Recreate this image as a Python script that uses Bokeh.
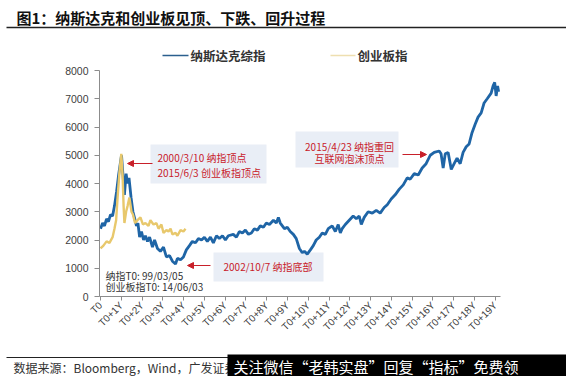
import math
from bokeh.plotting import figure
from bokeh.layouts import column, row
from bokeh.models import Label, BoxAnnotation, Arrow, NormalHead, FixedTicker
from bokeh.core.properties import value
from bokeh.embed import file_html
from bokeh.resources import INLINE

# ---------------- data ----------------
tick_years = list(range(20))
tick_labels = ["T0"] + [f"T0+{i}Y" for i in range(1, 20)]
y_ticks = [0, 1000, 2000, 3000, 4000, 5000, 6000, 7000, 8000]

# Nasdaq Composite, years after T0 (1999/03/05)
nasdaq_t = [0.00, 0.10, 0.19, 0.29, 0.38, 0.48, 0.58, 0.67, 0.77, 0.87, 1.01, 1.06, 1.15, 1.23,
            1.30, 1.37, 1.47, 1.56, 1.63, 1.73, 1.80, 1.88, 1.97, 2.07, 2.16, 2.26, 2.36, 2.50,
            2.60, 2.74, 2.88, 3.03, 3.17, 3.32, 3.46, 3.61, 3.70, 3.85, 3.99, 4.13, 4.28, 4.42,
            4.57, 4.71, 4.86, 5.00, 5.14, 5.29, 5.43, 5.58, 5.72, 5.87, 6.01, 6.15, 6.39, 6.54,
            6.68, 6.83, 6.97, 7.12, 7.26, 7.40, 7.55, 7.69, 7.84, 7.98, 8.13, 8.32, 8.46, 8.56,
            8.65, 8.85, 8.99, 9.13, 9.28, 9.42, 9.57, 9.71, 9.81, 9.95, 10.10, 10.24, 10.38,
            10.53, 10.67, 10.82, 10.96, 11.15, 11.30, 11.44, 11.54, 11.63, 11.78, 11.97, 12.16,
            12.31, 12.45, 12.55, 12.69, 12.88, 13.08, 13.27, 13.46, 13.65, 13.80, 13.99, 14.18,
            14.38, 14.57, 14.76, 14.90, 15.10, 15.29, 15.48, 15.67, 15.87, 16.06, 16.30, 16.39,
            16.49, 16.59, 16.73, 16.88, 17.02, 17.16, 17.31, 17.45, 17.60, 17.74, 17.88, 18.03,
            18.17, 18.32, 18.46, 18.61, 18.80, 18.89, 18.97, 19.04, 19.11, 19.16]
nasdaq_v = [2400, 2600, 2500, 2750, 2650, 2900, 2850, 3200, 3700, 4300, 5000, 4500, 3600, 4350,
            4000, 4200, 3500, 3000, 2800, 2500, 2600, 2100, 2300, 2000, 2150, 1950, 2100, 1750,
            2000, 1700, 1600, 1750, 1400, 1450, 1250, 1150, 1350, 1300, 1400, 1650, 1800, 1950,
            1900, 2050, 2000, 2100, 1950, 2100, 1900, 2150, 2050, 2150, 2000, 2150, 2200, 2100,
            2300, 2250, 2350, 2200, 2250, 2400, 2350, 2500, 2450, 2600, 2550, 2700, 2600, 2800,
            2600, 2400, 2450, 2300, 2200, 2050, 1700, 1550, 1600, 1500, 1650, 1800, 2000,
            2100, 2250, 2200, 2400, 2500, 2300, 2550, 2250, 2400, 2550, 2700, 2850,
            2750, 2850, 2550, 2800, 3000, 2950, 3050, 2950, 3150, 3250, 3450, 3600,
            3800, 3950, 4200, 4150, 4350, 4300, 4550, 4700, 5000, 5100, 5150, 5050,
            4550, 5050, 5100, 4500, 4700, 4900, 4700, 5100, 5300, 5400, 5800, 6100,
            6350, 6500, 6850, 7000, 7200, 7450, 7580, 7100, 7450, 7250]

# ChiNext index, years after T0 (14/06/03)
chinext_t = [0.00, 0.14, 0.29, 0.43, 0.58, 0.67, 0.75, 0.82, 0.91, 1.00, 1.06, 1.11, 1.15, 1.23,
             1.30, 1.39, 1.49, 1.56, 1.66, 1.78, 1.92, 2.04, 2.16, 2.31, 2.40, 2.55, 2.69, 2.79,
             2.93, 3.03, 3.17, 3.27, 3.37, 3.46, 3.61, 3.70, 3.85, 3.99, 4.09]
chinext_v = [1700, 1800, 1950, 1900, 2100, 2400, 2700, 3500, 4400, 5050, 4300, 3200, 2600, 3000,
             3200, 3500, 3000, 2900, 2600, 2700, 2800, 2550, 2600, 2500, 2700, 2550, 2600, 2400,
             2550, 2250, 2350, 2300, 2400, 2200, 2250, 2150, 2350, 2300, 2400]

series_names = ["纳斯达克综指", "创业板指"]
title_text = "图1：纳斯达克和创业板见顶、下跌、回升过程"
source_text = "数据来源：Bloomberg，Wind，广发证券"
banner_text = "关注微信“老韩实盘”回复“指标”免费领"

BLUE = "#1f65a6"
GOLD = "#e8c86c"
RED = "#c8202a"
CJK = "Noto Sans CJK SC"

W, H = 566, 376
TOP_H = 64          # header strip: canvas y 0..64
MAIN_BOT = 340      # main chart: canvas y 64..340, footer 340..376


def strip(height, y_top, y_bot):
    f = figure(width=W, height=height, x_range=(0, W), y_range=(y_bot, y_top),
               output_backend="svg", toolbar_location=None,
               x_axis_location=None, y_axis_location=None,
               min_border=0, min_border_left=0, min_border_right=0,
               min_border_top=0, min_border_bottom=0)
    f.outline_line_color = None
    f.grid.visible = False
    return f


# ---------------- header ----------------
top = strip(TOP_H, 0, TOP_H)
top.text(x=[16], y=[17], text=[title_text], text_font=value(CJK), text_font_size="15px",
         text_font_style="bold", text_color="#111111", text_baseline="middle")
top.segment(x0=[6], x1=[W], y0=[27], y1=[27], line_color="#222222", line_width=1.5)
top.segment(x0=[162, 330], x1=[188, 355], y0=[55, 55], y1=[55, 55],
            line_color=["#2b5f8e", "#eedfb0"], line_width=1.6)
top.text(x=[190, 357], y=[55, 55], text=series_names, text_font=value(CJK),
         text_font_size="12.5px", text_font_style="bold", text_color="#333333",
         text_baseline="middle")

# ---------------- main chart ----------------
X0, X1 = -0.05, 19.25
Y0, Y1 = 0, 8000
FL, FR, FT, FB = 99, 500, 70, 296   # frame edges in canvas pixels


def dx(px):
    return X0 + (px - FL) / (FR - FL) * (X1 - X0)


def dy(py):
    return Y0 + (FB - py) / (FB - FT) * (Y1 - Y0)


p = figure(width=W, height=MAIN_BOT - TOP_H, x_range=(X0, X1), y_range=(Y0, Y1),
           output_backend="svg", toolbar_location=None,
           min_border_left=FL, min_border_right=W - FR,
           min_border_top=FT - TOP_H, min_border_bottom=MAIN_BOT - FB)
p.outline_line_color = None
p.grid.visible = False

p.yaxis.ticker = FixedTicker(ticks=y_ticks)
p.yaxis.axis_line_color = "#8c8c8c"
p.yaxis.major_tick_line_color = "#8c8c8c"
p.yaxis.major_tick_out = 5
p.yaxis.major_tick_in = 0
p.yaxis.minor_tick_line_color = None
p.yaxis.major_label_text_font = "Liberation Sans"
p.yaxis.major_label_text_font_size = "10.5px"
p.yaxis.major_label_text_color = "#404040"
p.yaxis.major_label_standoff = 6

p.xaxis.ticker = FixedTicker(ticks=tick_years)
p.xaxis.major_label_overrides = {i: s for i, s in zip(tick_years, tick_labels)}
p.xaxis.major_label_orientation = math.pi / 4
p.xaxis.axis_line_color = "#8c8c8c"
p.xaxis.major_tick_line_color = "#8c8c8c"
p.xaxis.major_tick_out = 4
p.xaxis.major_tick_in = 0
p.xaxis.minor_tick_line_color = None
p.xaxis.major_label_text_font = "Liberation Sans"
p.xaxis.major_label_text_font_size = "10px"
p.xaxis.major_label_text_color = "#404040"
p.xaxis.major_label_standoff = 3

# annotation boxes (behind lines)
for (l, r, t, b) in [(150, 266, 144, 183), (295, 398, 131, 167), (213, 323, 252, 281)]:
    p.add_layout(BoxAnnotation(left=dx(l), right=dx(r), top=dy(t), bottom=dy(b),
                               fill_color="#e9eef6", fill_alpha=1.0, line_color=None,
                               level="underlay"))

p.line(nasdaq_t, nasdaq_v, line_color=BLUE, line_width=2.8)
p.line(chinext_t, chinext_v, line_color=GOLD, line_width=2.4)


def label(px, py, text, size, color="#222222", style="normal", align="left"):
    p.add_layout(Label(x=dx(px), y=dy(py), text=text, text_font=CJK,
                       text_font_size=size, text_color=color, text_font_style=style,
                       text_align=align, text_baseline="middle"))


def arrow(x1, x2, py):
    p.add_layout(Arrow(x_start=dx(x1), x_end=dx(x2), y_start=dy(py), y_end=dy(py),
                       line_color=RED, line_width=1.2,
                       end=NormalHead(size=6, fill_color=RED, line_color=RED)))


arrow(152, 127, 163)
label(157, 157, "2000/3/10 纳指顶点", "10px", RED)
label(157, 172, "2015/6/3 创业板指顶点", "10px", RED)

arrow(402, 426, 154)
label(349, 146, "2015/4/23 纳指重回", "10px", RED, align="center")
label(349, 158, "互联网泡沫顶点", "10px", RED, align="center")

arrow(210, 187, 265)
label(223, 266, "2002/10/7 纳指底部", "10px", RED)

label(105, 275, "纳指T0:  99/03/05", "10px", "#333333")
label(105, 286, "创业板指T0:  14/06/03", "10px", "#333333")

# ---------------- footer ----------------
bot = strip(H - MAIN_BOT, MAIN_BOT, H)
bot.segment(x0=[6], x1=[W], y0=[357], y1=[357], line_color="#222222", line_width=1.2)
bot.text(x=[13], y=[367], text=[source_text], text_font=value(CJK), text_font_size="12px",
         text_color="#333333", text_baseline="middle")
bot.quad(left=[227], right=[W + 10], top=[354], bottom=[H + 10], fill_color="black",
         line_color=None)
bot.text(x=[233], y=[365.5], text=[banner_text], text_font=value(CJK), text_font_size="15px",
         text_color="white", text_baseline="middle")

layout = column(row(top), p, row(bot), spacing=0)
open("out.html", "w").write(file_html(layout, INLINE))
